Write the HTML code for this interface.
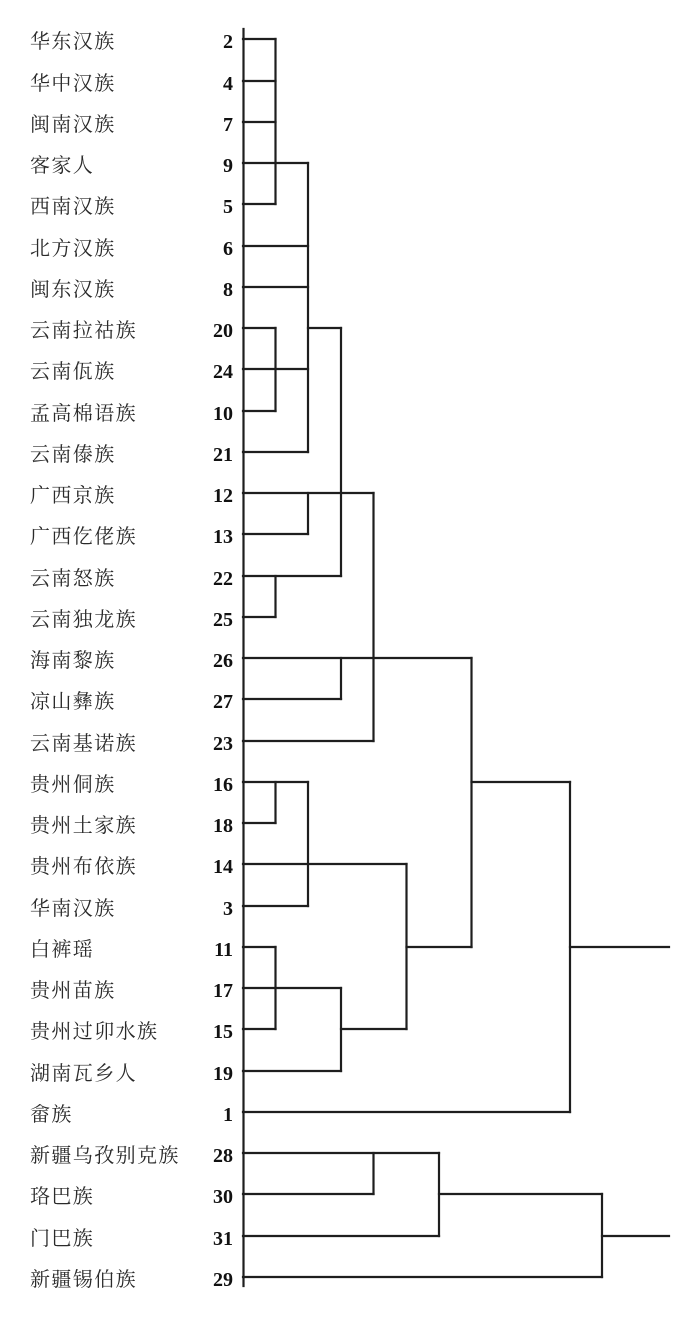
<!DOCTYPE html>
<html><head><meta charset="utf-8">
<style>
html,body{margin:0;padding:0;background:#fff;}
svg{display:block;}
.lb{font-family:"Liberation Serif","Noto Serif CJK SC",serif;font-size:20px;fill:#2a2a2a;letter-spacing:1.4px;}
.nm{font-family:"Liberation Serif",serif;font-size:20px;font-weight:bold;fill:#111;}
</style></head>
<body>
<svg width="691" height="1322" viewBox="0 0 691 1322" xmlns="http://www.w3.org/2000/svg">
<rect width="691" height="1322" fill="#fff"/>
<g class="lb">
<text x="30" y="48">华东汉族</text>
<text x="30" y="90">华中汉族</text>
<text x="30" y="131">闽南汉族</text>
<text x="30" y="172">客家人</text>
<text x="30" y="213">西南汉族</text>
<text x="30" y="255">北方汉族</text>
<text x="30" y="296">闽东汉族</text>
<text x="30" y="337">云南拉祜族</text>
<text x="30" y="378">云南佤族</text>
<text x="30" y="420">孟高棉语族</text>
<text x="30" y="461">云南傣族</text>
<text x="30" y="502">广西京族</text>
<text x="30" y="543">广西仡佬族</text>
<text x="30" y="585">云南怒族</text>
<text x="30" y="626">云南独龙族</text>
<text x="30" y="667">海南黎族</text>
<text x="30" y="708">凉山彝族</text>
<text x="30" y="750">云南基诺族</text>
<text x="30" y="791">贵州侗族</text>
<text x="30" y="832">贵州土家族</text>
<text x="30" y="873">贵州布依族</text>
<text x="30" y="915">华南汉族</text>
<text x="30" y="956">白裤瑶</text>
<text x="30" y="997">贵州苗族</text>
<text x="30" y="1038">贵州过卯水族</text>
<text x="30" y="1080">湖南瓦乡人</text>
<text x="30" y="1121">畲族</text>
<text x="30" y="1162">新疆乌孜别克族</text>
<text x="30" y="1203">珞巴族</text>
<text x="30" y="1245">门巴族</text>
<text x="30" y="1286">新疆锡伯族</text>
</g>
<g class="nm" text-anchor="end">
<text x="233" y="48">2</text>
<text x="233" y="90">4</text>
<text x="233" y="131">7</text>
<text x="233" y="172">9</text>
<text x="233" y="213">5</text>
<text x="233" y="255">6</text>
<text x="233" y="296">8</text>
<text x="233" y="337">20</text>
<text x="233" y="378">24</text>
<text x="233" y="420">10</text>
<text x="233" y="461">21</text>
<text x="233" y="502">12</text>
<text x="233" y="543">13</text>
<text x="233" y="585">22</text>
<text x="233" y="626">25</text>
<text x="233" y="667">26</text>
<text x="233" y="708">27</text>
<text x="233" y="750">23</text>
<text x="233" y="791">16</text>
<text x="233" y="832">18</text>
<text x="233" y="873">14</text>
<text x="233" y="915">3</text>
<text x="233" y="956">11</text>
<text x="233" y="997">17</text>
<text x="233" y="1038">15</text>
<text x="233" y="1080">19</text>
<text x="233" y="1121">1</text>
<text x="233" y="1162">28</text>
<text x="233" y="1203">30</text>
<text x="233" y="1245">31</text>
<text x="233" y="1286">29</text>
</g>
<g stroke="#1e1e1e" stroke-width="2.2" fill="none" stroke-linecap="square">
<!-- axis -->
<line x1="243.5" y1="29" x2="243.5" y2="1286"/>
<!-- top cluster -->
<line x1="243" y1="39" x2="275.5" y2="39"/>
<line x1="243" y1="81" x2="275.5" y2="81"/>
<line x1="243" y1="122" x2="275.5" y2="122"/>
<line x1="243" y1="163" x2="308" y2="163"/>
<line x1="243" y1="204" x2="275.5" y2="204"/>
<line x1="275.5" y1="39" x2="275.5" y2="204"/>
<line x1="243" y1="246" x2="308" y2="246"/>
<line x1="243" y1="287" x2="308" y2="287"/>
<line x1="243" y1="328" x2="275.5" y2="328"/>
<line x1="308" y1="328" x2="341" y2="328"/>
<line x1="243" y1="369" x2="308" y2="369"/>
<line x1="243" y1="411" x2="275.5" y2="411"/>
<line x1="275.5" y1="328" x2="275.5" y2="411"/>
<line x1="243" y1="452" x2="308" y2="452"/>
<line x1="308" y1="163" x2="308" y2="452"/>
<line x1="243" y1="493" x2="373.5" y2="493"/>
<line x1="243" y1="534" x2="308" y2="534"/>
<line x1="308" y1="493" x2="308" y2="534"/>
<line x1="243" y1="576" x2="341" y2="576"/>
<line x1="243" y1="617" x2="275.5" y2="617"/>
<line x1="275.5" y1="576" x2="275.5" y2="617"/>
<line x1="341" y1="328" x2="341" y2="576"/>
<line x1="243" y1="658" x2="471.5" y2="658"/>
<line x1="243" y1="699" x2="341" y2="699"/>
<line x1="341" y1="658" x2="341" y2="699"/>
<line x1="243" y1="741" x2="373.5" y2="741"/>
<line x1="373.5" y1="493" x2="373.5" y2="741"/>
<!-- middle cluster -->
<line x1="243" y1="782" x2="308" y2="782"/>
<line x1="471.5" y1="782" x2="570" y2="782"/>
<line x1="243" y1="823" x2="275.5" y2="823"/>
<line x1="275.5" y1="782" x2="275.5" y2="823"/>
<line x1="243" y1="864" x2="406.5" y2="864"/>
<line x1="243" y1="906" x2="308" y2="906"/>
<line x1="308" y1="782" x2="308" y2="906"/>
<line x1="243" y1="947" x2="275.5" y2="947"/>
<line x1="406.5" y1="947" x2="471.5" y2="947"/>
<line x1="570" y1="947" x2="669" y2="947"/>
<line x1="243" y1="988" x2="341" y2="988"/>
<line x1="243" y1="1029" x2="275.5" y2="1029"/>
<line x1="341" y1="1029" x2="406.5" y2="1029"/>
<line x1="275.5" y1="947" x2="275.5" y2="1029"/>
<line x1="243" y1="1071" x2="341" y2="1071"/>
<line x1="341" y1="988" x2="341" y2="1071"/>
<line x1="406.5" y1="864" x2="406.5" y2="1029"/>
<line x1="471.5" y1="658" x2="471.5" y2="947"/>
<line x1="243" y1="1112" x2="570" y2="1112"/>
<line x1="570" y1="782" x2="570" y2="1112"/>
<!-- bottom cluster -->
<line x1="243" y1="1153" x2="439" y2="1153"/>
<line x1="243" y1="1194" x2="373.5" y2="1194"/>
<line x1="439" y1="1194" x2="602" y2="1194"/>
<line x1="373.5" y1="1153" x2="373.5" y2="1194"/>
<line x1="243" y1="1236" x2="439" y2="1236"/>
<line x1="602" y1="1236" x2="669" y2="1236"/>
<line x1="439" y1="1153" x2="439" y2="1236"/>
<line x1="243" y1="1277" x2="602" y2="1277"/>
<line x1="602" y1="1194" x2="602" y2="1277"/>
</g>
</svg>
</body></html>
